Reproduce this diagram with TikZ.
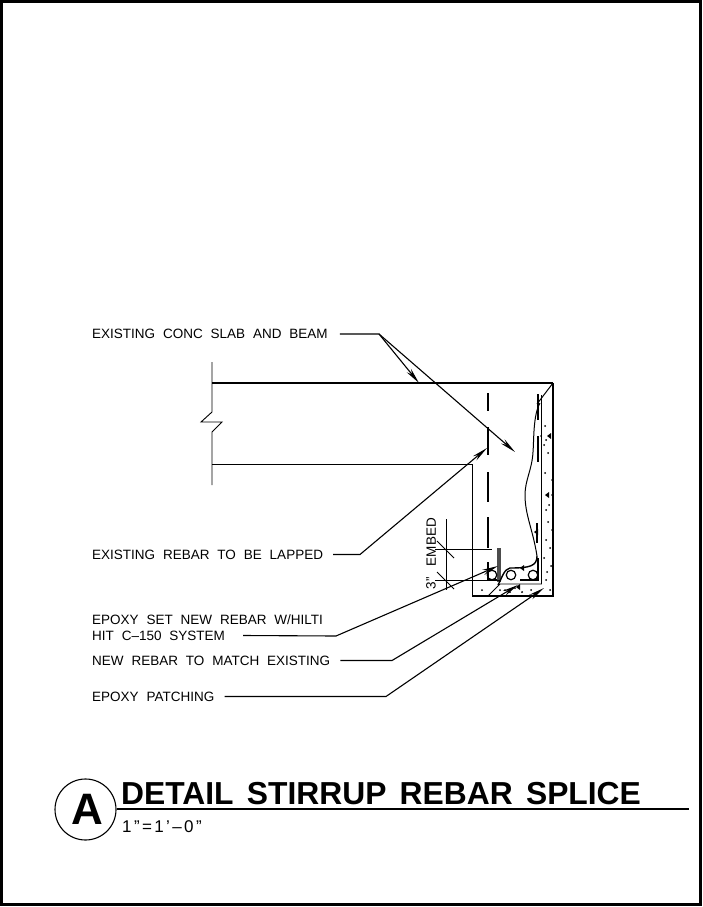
\documentclass[tikz,border=0pt]{standalone}
\usepackage{fontspec}
\setmainfont{Liberation Sans}
\newfontfamily\cadfont[WordSpace=2.1]{Liberation Sans}
\newfontfamily\titlefont[WordSpace=1.5]{Liberation Sans Bold}
\newfontfamily\scalefont[LetterSpace=14]{Liberation Sans}
\usetikzlibrary{arrows.meta, positioning, calc}
\tikzset{
  calltext/.style={font=\cadfont\fontsize{13.5}{14}\selectfont, inner sep=0pt, anchor=west, align=left},
  leader/.style={line width=1.1pt, -{Stealth[length=16pt,width=5.5pt]}},
  wall/.style={line width=0.9pt},
  rebar/.style={line width=2.4pt},
  thinline/.style={line width=1pt},
  barmark/.style={draw, circle, line width=1.2pt, minimum size=9.5pt, inner sep=0pt}
}
\begin{document}
\begin{tikzpicture}[x=1pt,y=-1pt]
  \useasboundingbox (0,0) rectangle (703,907);
  \draw[line width=3pt] (1.5,1.5) rectangle (700.5,904.5);

  % Slab and beam outline
  \draw[wall] (212,362) -- (212,412) -- (201,422) -- (222,422) -- (212,432) -- (212,485);
  \draw[line width=1.6pt] (212,383) -- (553,383);
  \draw[wall] (212,464) -- (472,464) -- (472,596);
  \draw[line width=1.4pt] (472,596) -- (553,596) -- (553,383);
  \draw[thinline] (553,383) -- (537,404);
  \draw[wall] (541.5,395) -- (541.5,584) -- (500,584) -- (488,596);

  % Existing rebar
  \foreach \ya/\yb in {393/411, 427/455, 472/502, 517/548, 562/580}
    \draw[rebar] (488,\ya) -- (488,\yb);
  \draw[rebar] (538,394) -- (538,420);
  \draw[rebar] (538,436) -- (538,462);
  \draw[rebar] (537,523) -- (537,543);
  \draw[rebar] (538,558) -- (538,580) -- (520,580);
  \draw[rebar] (488,580) -- (500,580);
  \draw[line width=4.5pt, gray!60!black] (499,548) -- (499,582);
  \node[barmark] (bara) at (492,575) {};
  \node[barmark] (barb) at (511,575) {};
  \node[barmark] (barc) at (533,575) {};

  % Break line in concrete
  \draw[thinline] (540,403) .. controls (533,415) and (534,440) .. (533,452)
    .. controls (532,470) and (525,480) .. (525,495)
    .. controls (525,515) and (533,530) .. (537,556);
  \draw[line width=1.4pt] (537,556) .. controls (537,566) and (530,568) .. (510,568)
    .. controls (504,569) and (502,578) .. (498,585);

  % Concrete stipple
  \foreach \px/\py in {545/426, 546/440, 548/453, 545/473, 552/480, 547/495, 552/495, 552/530, 544/558, 548/522, 541/436,
    546/510, 551/566, 546/580, 500/590, 505/590, 515/588, 522/592, 531/590, 550/590, 482/590, 497/596,
    544/445, 549/505, 546/540, 550/548, 547/572, 510/592, 538/592}
    \fill (\px,\py) circle (1pt);
  \foreach \px/\py in {545/495, 534/532, 520/568, 547/436, 516/587}
    \fill (\px,\py) -- ++(4,-3) -- ++(0,6) -- cycle;

  % Embed dimension
  \draw[thinline] (446,519) -- (446,590);
  \draw[thinline] (435,549) -- (492,549);
  \draw[thinline] (435,580) -- (500,580);
  \draw[thinline] (437,541) -- (454,558);
  \draw[thinline] (437,572) -- (454,589);
  \node[calltext, anchor=south, rotate=90, inner sep=0pt] (embedlabel) at (436,542) {EMBED};
  \node[calltext, anchor=south, rotate=90, inner sep=0pt] (threelabel) at (436,583) {3”};

  % Callouts
  \node[calltext] (slablabel) at (92,334) {EXISTING CONC SLAB AND BEAM};
  \node[calltext] (laplabel) at (92,554.5) {EXISTING REBAR TO BE LAPPED};
  \node[calltext] (epoxyone) at (92,619.5) {EPOXY SET NEW REBAR W/HILTI};
  \node[calltext] (epoxytwo) at (92,635.5) {HIT C–150 SYSTEM};
  \node[calltext] (newlabel) at (92,660.5) {NEW REBAR TO MATCH EXISTING};
  \node[calltext] (patchlabel) at (92,696.5) {EPOXY PATCHING};

  \coordinate (slabbend) at (379,334);
  \coordinate (slabtipa) at (419,383);
  \coordinate (slabtipb) at (515,452);
  \coordinate (lapbend) at (360,554.5);
  \coordinate (laptip) at (487,448);
  \coordinate (epoxybend) at (336,636);
  \coordinate (epoxytip) at (498,566);
  \coordinate (newbend) at (392,660.5);
  \coordinate (newtip) at (518,585);
  \coordinate (patchbend) at (386,696.5);
  \coordinate (patchtip) at (544,588);

  \draw[leader] ([xshift=12pt]slablabel.east) -- (slabbend) -- (slabtipa);
  \draw[leader] (slabbend) -- (slabtipb);
  \draw[leader] ([xshift=10pt]laplabel.east) -- (lapbend) -- (laptip);
  \draw[leader] ([xshift=18pt]epoxytwo.east) -- (epoxybend) -- (epoxytip);
  \draw[leader] ([xshift=10pt]newlabel.east) -- (newbend) -- (newtip);
  \draw[leader] ([xshift=10pt]patchlabel.east) -- (patchbend) -- (patchtip);

  % Title block
  \node[draw, circle, line width=1.1pt, minimum size=61pt, inner sep=0pt, text depth=0pt, font=\fontsize{44}{44}\selectfont\bfseries] (titlemark) at (85.5,809.5) {\kern3pt A};
  \coordinate (titleend) at (689,809);
  \draw[line width=1.1pt] (titlemark.east |- titleend) -- (titleend);
  \node[inner sep=0pt, anchor=base west, font=\titlefont\fontsize{31.8}{32}\selectfont] (titlelabel) at (121,804.5) {DETAIL STIRRUP REBAR SPLICE};
  \node[inner sep=0pt, anchor=base west, font=\scalefont\fontsize{17}{17}\selectfont] (scalelabel) at (122,832.5) {1”=1’–0”};
\end{tikzpicture}
\end{document}
